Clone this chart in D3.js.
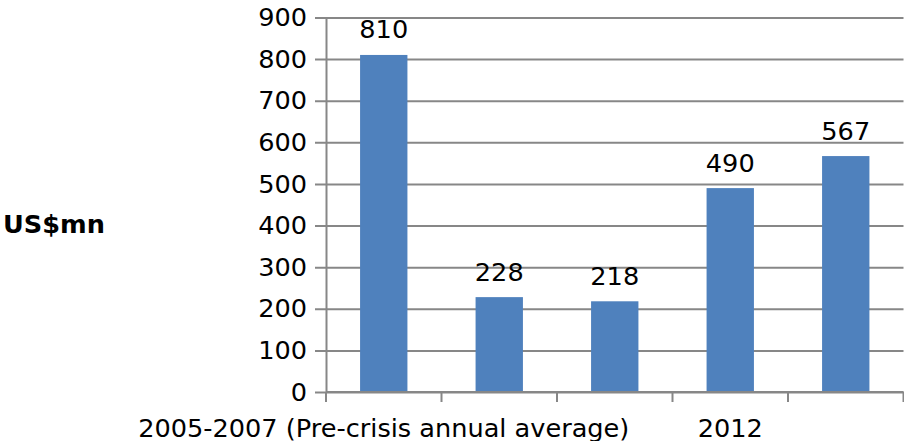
<!DOCTYPE html>
<html>
<head>
<meta charset="utf-8">
<script src="https://cdn.jsdelivr.net/npm/d3@7"></script>
<style>
  html, body { margin: 0; padding: 0; background: #fff; }
  svg { display: block; font-family: "DejaVu Sans", sans-serif; }
</style>
</head>
<body>
<svg id="chart" width="904" height="441"></svg>
<script>
// Category slots along the x axis and their printed labels (only some are shown)
const categories = ["c0", "c1", "c2", "c3", "c4"];
const tickLabels = ["2005-2007 (Pre-crisis annual average)", "", "", "2012", ""];
const values = [810, 228, 218, 490, 567];
const yTicks = [0, 100, 200, 300, 400, 500, 600, 700, 800, 900];
const yTitle = "US$mn";

const W = 904, H = 441;
const margin = { top: 17.5, right: 0.5, bottom: 49, left: 326 };
const fontSize = 25.6;
const svg = d3.select("#chart");

const x = d3.scaleBand()
  .domain(categories)
  .range([margin.left, W - margin.right])
  .paddingInner(0.59)
  .paddingOuter(0.295);

const y = d3.scaleLinear()
  .domain([0, 900])
  .range([H - margin.bottom, margin.top]);

const gridColor = "#878787";

// horizontal gridlines with left tick marks and labels
const yAxis = d3.axisLeft(y)
  .tickValues(yTicks)
  .tickSize(-(W - margin.right - margin.left))
  .tickSizeOuter(0)
  .tickPadding(0)
  .tickFormat(d3.format("d"));

const gy = svg.append("g")
  .attr("transform", `translate(${margin.left},0)`)
  .call(yAxis);
gy.select(".domain").attr("stroke", gridColor).attr("stroke-width", 2);
gy.selectAll(".tick line").attr("stroke", gridColor).attr("stroke-width", 2)
  .attr("x1", -11);
gy.selectAll(".tick text")
  .attr("x", -19)
  .attr("font-size", fontSize)
  .attr("fill", "#000")
  .attr("font-family", "DejaVu Sans");

// bars
svg.append("g")
  .selectAll("rect")
  .data(values)
  .join("rect")
  .attr("x", (d, i) => x(categories[i]))
  .attr("width", x.bandwidth())
  .attr("y", d => y(d))
  .attr("height", d => y(0) - y(d))
  .attr("fill", "#4F81BD");

// value labels above each bar
svg.append("g")
  .selectAll("text")
  .data(values)
  .join("text")
  .attr("x", (d, i) => x(categories[i]) + x.bandwidth() / 2)
  .attr("y", d => y(d) - 16.5)
  .attr("text-anchor", "middle")
  .attr("font-size", fontSize)
  .attr("fill", "#000")
  .text(d => d);

// x axis with ticks at category boundaries
const baseY = y(0);
const gx = svg.append("g");
gx.append("line")
  .attr("x1", margin.left).attr("x2", W - margin.right)
  .attr("y1", baseY).attr("y2", baseY)
  .attr("stroke", gridColor).attr("stroke-width", 2);
const step = x.step();
const boundaries = d3.range(categories.length + 1).map(i => margin.left + i * step);
gx.selectAll("line.tk")
  .data(boundaries)
  .join("line")
  .attr("class", "tk")
  .attr("x1", d => d).attr("x2", d => d)
  .attr("y1", baseY).attr("y2", baseY + 10)
  .attr("stroke", gridColor).attr("stroke-width", 2);

gx.selectAll("text")
  .data(tickLabels)
  .join("text")
  .attr("x", (d, i) => x(categories[i]) + x.bandwidth() / 2)
  .attr("y", 436.5)
  .attr("text-anchor", "middle")
  .attr("font-size", fontSize)
  .attr("fill", "#000")
  .text(d => d);

// y axis title
svg.append("text")
  .attr("x", 3)
  .attr("y", 233)
  .attr("font-size", fontSize)
  .attr("font-weight", "bold")
  .attr("fill", "#000")
  .text(yTitle);
</script>
</body>
</html>
